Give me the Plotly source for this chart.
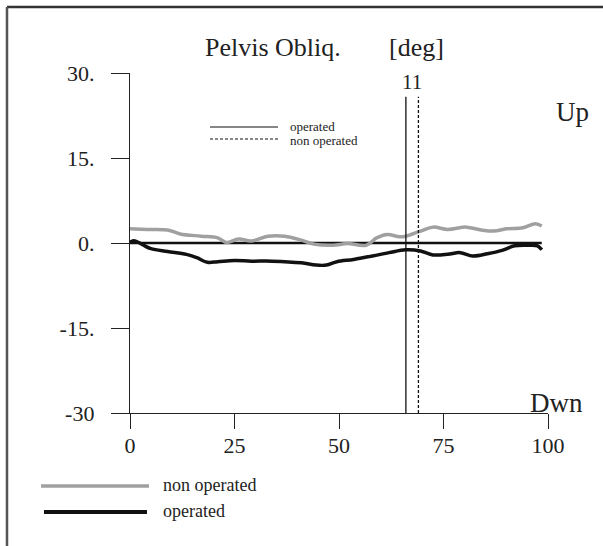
import plotly.graph_objects as go

# ---- data ----
x_ticks = [0, 25, 50, 75, 100]
x_tick_labels = ["0", "25", "50", "75", "100"]
y_ticks = [30, 15, 0, -15, -30]
y_tick_labels = ["30.", "15.", "0.", "-15.", "-30"]

non_op_x = [0, 4, 9, 12, 17, 21, 23, 26, 29, 33, 37, 41, 44, 48.5, 52, 56.5, 59, 61.5,
            64.5, 66, 69.5, 72.5, 76, 80.5, 84, 87, 90, 94, 97, 98.5]
non_op_y = [2.5, 2.4, 2.3, 1.6, 1.2, 0.9, 0.1, 0.7, 0.35, 1.2, 1.2, 0.5, -0.2, -0.4, -0.1,
            -0.4, 0.9, 1.5, 1.1, 1.2, 2.1, 2.8, 2.4, 2.8, 2.3, 2.1, 2.5, 2.7, 3.4, 3.0]

op_x = [0, 1, 3, 5, 9, 13.5, 16, 18.5, 21, 25, 29, 34, 41, 44.5, 47, 49.5, 53.5, 58, 62,
        66, 69.5, 72.5, 76, 79, 82, 85.5, 89, 92, 95, 97.5, 98.5]
op_y = [0.1, 0.4, -0.3, -1.0, -1.5, -2.0, -2.6, -3.4, -3.3, -3.1, -3.2, -3.2, -3.5, -3.9,
        -3.9, -3.3, -2.9, -2.3, -1.7, -1.2, -1.4, -2.1, -2.0, -1.7, -2.3, -1.9, -1.3, -0.5,
        -0.4, -0.5, -1.2]

toe_off_operated = 66
toe_off_non_operated = 69
toe_off_label = "11"
y_min, y_max = -30, 30
vline_top = 25.8

FONT = "Liberation Serif"
W, H = 603, 546
L, R, T, B = 130, 55, 73, 133
pw, ph = W - L - R, H - T - B


def px_x(p):
    return (p - L) / pw


def px_y(p):
    return (H - B - p) / ph


fig = go.Figure()

# zero line
fig.add_trace(go.Scatter(x=[0, op_x[-1]], y=[0, 0], mode="lines",
                         line=dict(color="#111111", width=2.5), showlegend=False, hoverinfo="skip"))
# operated
fig.add_trace(go.Scatter(x=op_x, y=op_y, mode="lines", line=dict(color="#111111", width=3.5, shape="spline"),
                         showlegend=False))
# non operated
fig.add_trace(go.Scatter(x=non_op_x, y=non_op_y, mode="lines",
                         line=dict(color="#a0a0a0", width=3.5, shape="spline"), showlegend=False))
# toe off lines
fig.add_trace(go.Scatter(x=[toe_off_operated, toe_off_operated], y=[y_min, vline_top], mode="lines",
                         line=dict(color="#111111", width=1.3), showlegend=False))
fig.add_trace(go.Scatter(x=[toe_off_non_operated, toe_off_non_operated], y=[y_min, vline_top], mode="lines",
                         line=dict(color="#111111", width=1.3, dash="3px,2px"), showlegend=False))

fig.add_annotation(x=(toe_off_operated + toe_off_non_operated) / 2, y=vline_top, yshift=1,
                   text=toe_off_label, showarrow=False, yanchor="bottom",
                   font=dict(family=FONT, size=21, color="#222"))

shapes = []
# frame
shapes.append(dict(type="line", xref="paper", yref="paper", x0=px_x(7), x1=px_x(603),
                   y0=px_y(7), y1=px_y(7), line=dict(color="#333", width=2.5)))
shapes.append(dict(type="line", xref="paper", yref="paper", x0=px_x(7), x1=px_x(7),
                   y0=px_y(7), y1=px_y(546), line=dict(color="#555", width=2.5)))
# inner legend
shapes.append(dict(type="line", xref="paper", yref="paper", x0=px_x(210), x1=px_x(278),
                   y0=px_y(127), y1=px_y(127), line=dict(color="#111", width=1.2)))
shapes.append(dict(type="line", xref="paper", yref="paper", x0=px_x(210), x1=px_x(278),
                   y0=px_y(139), y1=px_y(139), line=dict(color="#111", width=1.2, dash="3px,2px")))
# bottom legend
shapes.append(dict(type="line", xref="paper", yref="paper", x0=px_x(41), x1=px_x(149),
                   y0=px_y(486), y1=px_y(486), line=dict(color="#a0a0a0", width=3.5)))
shapes.append(dict(type="line", xref="paper", yref="paper", x0=px_x(44), x1=px_x(147),
                   y0=px_y(512), y1=px_y(512), line=dict(color="#111", width=4)))

texts = [
    ("Pelvis Obliq.", 273, 47, 26, "center"),
    ("[deg]", 416, 47, 26, "center"),
    ("Up", 572, 112, 27, "center"),
    ("Dwn", 556, 403, 27, "center"),
    ("operated", 288, 126, 13, "left"),
    ("non operated", 288, 140, 13, "left"),
    ("non operated", 161, 485, 18, "left"),
    ("operated", 161, 511, 18, "left"),
]
for t, x, y, s, anc in texts:
    fig.add_annotation(xref="paper", yref="paper", x=px_x(x), y=px_y(y), text=t, showarrow=False,
                       xanchor=anc, yanchor="middle", font=dict(family=FONT, size=s, color="#222"))

fig.update_layout(
    width=W, height=H, margin=dict(l=L, r=R, t=T, b=B),
    paper_bgcolor="white", plot_bgcolor="white", shapes=shapes, showlegend=False,
    font=dict(family=FONT, color="#222"),
    xaxis=dict(range=[0, 100], tickvals=x_ticks, ticktext=x_tick_labels, showgrid=False,
               zeroline=False, showline=True, linecolor="#222", linewidth=1.3, ticks="outside",
               ticklen=15, tickwidth=1.3, tickcolor="#222", tickfont=dict(family=FONT, size=22),
               ticklabelstandoff=-3),
    yaxis=dict(range=[y_min, y_max], tickvals=y_ticks, ticktext=y_tick_labels, showgrid=False,
               zeroline=False, showline=True, linecolor="#222", linewidth=1.3, ticks="outside",
               ticklen=18, tickwidth=1.3, tickcolor="#222", tickfont=dict(family=FONT, size=22),
               ticklabelstandoff=12),
)

fig.write_html("out.html", config={"displayModeBar": False},
               post_script="document.body.style.margin='0';document.body.style.overflow='hidden';")
